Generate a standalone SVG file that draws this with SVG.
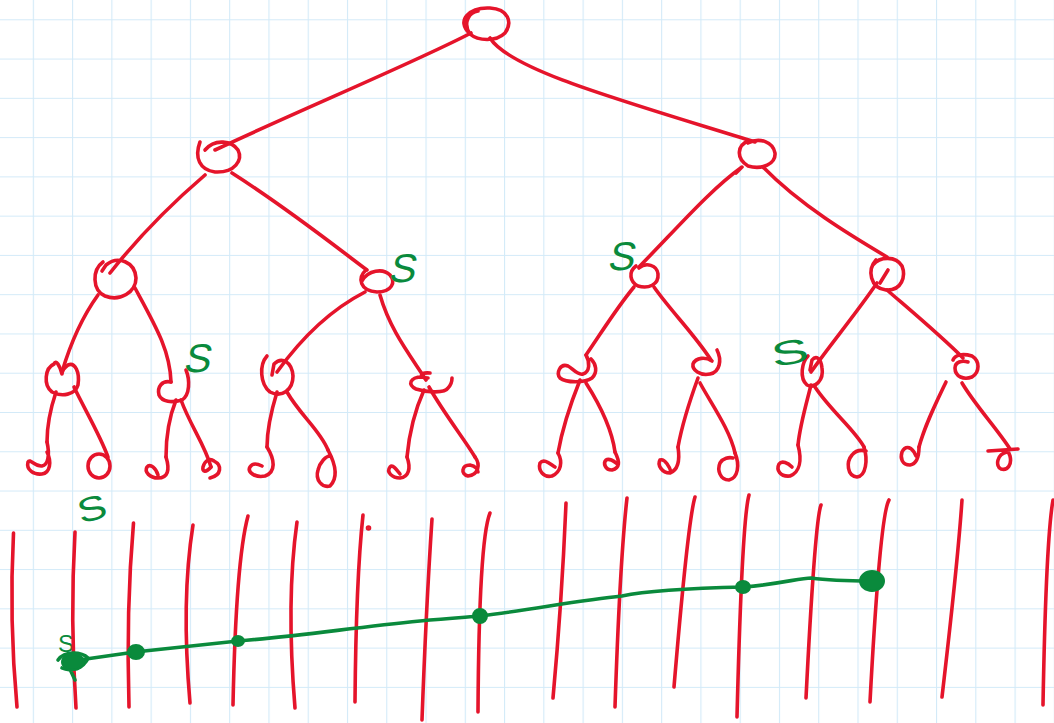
<svg xmlns="http://www.w3.org/2000/svg" width="1054" height="723" viewBox="0 0 1054 723">
<defs>
<pattern id="grid" x="32.8" y="19.3" width="39.27" height="39.27" patternUnits="userSpaceOnUse">
<path d="M0,0 V39.27 M0,0 H39.27" fill="none" stroke="#d3eaf8" stroke-width="2.2"/>
</pattern>
<style>
.r{fill:none;stroke:#e5142b;stroke-width:3.6;stroke-linecap:round;stroke-linejoin:round}
.g{fill:none;stroke:#0a8a3c;stroke-width:3.6;stroke-linecap:round;stroke-linejoin:round}
.gd{fill:#0a8a3c;stroke:#0a8a3c;stroke-width:2}
.s{fill:#0a8a3c;font-family:"Liberation Sans",Arial,sans-serif;font-size:40px;text-anchor:middle}
</style>
</defs>
<rect width="1054" height="723" fill="#ffffff"/>
<rect width="1054" height="723" fill="url(#grid)"/>

<g id="connectors" class="r">
<path d="M471,33 C420,60 300,110 215,150"/>
<path d="M490,38 C510,70 620,100 755,142"/>
<path d="M205,175 C170,205 140,235 110,273"/>
<path d="M232,173 C290,210 340,250 367,270"/>
<path d="M736,173 L742,167 C710,190 680,225 639,267"/>
<path d="M763,167 C800,205 850,235 887,257"/>
<path d="M98,295 C80,320 70,345 62,372"/>
<path d="M135,288 C155,325 170,350 171,382"/>
<path d="M365,292 C330,310 300,340 277,372"/>
<path d="M380,295 C390,330 410,355 426,380"/>
<path d="M634,287 C615,310 600,335 586,355"/>
<path d="M654,287 C670,310 695,335 711,360"/>
<path d="M877,283 C855,315 830,345 811,372"/>
<path d="M887,290 C910,310 940,335 963,358"/>
<path d="M56,392 C50,410 47,425 47,442"/>
<path d="M74,387 C85,410 100,435 108,457"/>
<path d="M176,400 C168,420 166,440 166,457"/>
<path d="M181,400 C190,425 205,445 211,467"/>
<path d="M277,392 C270,415 267,430 267,447"/>
<path d="M287,392 C300,415 320,430 328,450"/>
<path d="M424,390 C415,410 409,435 407,457"/>
<path d="M429,387 C445,415 465,440 475,457"/>
<path d="M580,380 C570,405 562,430 558,453"/>
<path d="M586,383 C600,405 612,430 615,452"/>
<path d="M698,378 C690,400 682,425 678,447"/>
<path d="M700,383 C712,405 730,430 735,453"/>
<path d="M811,385 C806,405 800,425 798,445"/>
<path d="M815,387 C830,410 855,430 864,447"/>
<path d="M946,382 C935,405 925,425 919,447"/>
<path d="M962,383 C975,405 998,430 1010,449"/>
</g>

<g id="root" class="r"><path d="M470,34 C455,20 470,7 490,8 C508,9 513,22 505,33 C496,42 478,41 470,34 C462,22 470,12 478,11"/></g>
<g id="n1" class="r"><path d="M200,142 C194,158 200,170 215,172 C235,173 243,160 238,150 C232,141 215,138 205,150"/></g>
<g id="n2" class="r"><path d="M748,141 C738,145 735,158 748,166 C762,170 776,164 775,153 C773,142 760,137 748,143"/></g>
<g id="n3" class="r"><path d="M103,262 C92,270 92,290 105,296 C120,302 136,292 136,278 C135,262 118,255 106,265 L102,271"/></g>
<g id="n4" class="r"><path d="M366,270 C357,278 360,291 377,292 C392,292 396,282 390,275 C383,268 368,270 362,281"/></g>
<g id="n5" class="r"><path d="M639,268 C646,262 657,265 658,274 C659,285 648,289 638,286 C630,282 628,272 636,266"/></g>
<g id="n6" class="r"><path d="M876,260 C867,270 870,288 886,290 C902,291 906,276 902,266 C896,256 880,256 873,265 M880,283 L888,270"/></g>
<g id="n7" class="r"><path d="M54,364 C45,368 43,385 52,392 C62,397 75,395 78,385 C80,372 75,362 68,365 C64,368 62,372 62,374 C60,366 56,359 54,364"/></g>
<g id="n8" class="r"><path d="M171,382 C162,380 157,387 159,395 C162,402 172,403 182,400 C190,395 190,380 186,370"/></g>
<g id="n9" class="r"><path d="M267,356 C259,365 260,384 270,392 C282,398 293,390 293,376 C292,362 282,356 274,364 L272,375"/></g>
<g id="n10" class="r"><path d="M422,377 C410,377 407,385 416,389 C428,393 445,393 448,388 C452,384 452,380 452,378 M430,373 C420,372 418,378 428,378"/></g>
<g id="n11" class="r"><path d="M586,355 C590,362 590,372 583,374 C578,376 572,368 568,366 C560,363 556,373 560,378 C566,383 585,383 592,378 C598,372 596,364 591,359"/></g>
<g id="n12" class="r"><path d="M717,350 C722,360 720,372 710,374 C700,376 692,370 693,364 C696,357 706,357 712,361"/></g>
<g id="n13" class="r"><path d="M808,356 C802,362 799,378 807,385 C815,389 824,380 822,368 C821,358 816,355 812,360 L810,370"/></g>
<g id="n14" class="r"><path d="M953,360 C955,355 962,353 972,356 C980,361 980,372 972,377 C964,380 955,377 955,368 C955,362 962,360 968,362"/></g>

<g id="leaf1" class="r"><path d="M47,442 C50,455 48,465 42,466 C35,467 30,458 28,462 C26,470 34,475 42,474 C50,473 52,462 47,452"/></g>
<g id="leaf2" class="r"><ellipse cx="99" cy="466" rx="11" ry="12"/></g>
<g id="leaf3" class="r"><path d="M166,457 C170,470 168,478 158,478 C150,478 144,472 147,467 C150,463 156,468 158,475"/></g>
<g id="leaf4" class="r"><path d="M211,467 C206,473 202,472 203,467 C205,460 210,458 214,461 C222,465 222,475 210,478"/></g>
<g id="leaf5" class="r"><path d="M267,447 C275,460 276,472 265,476 C255,478 247,472 250,467 C253,462 258,464 262,466"/></g>
<g id="leaf6" class="r"><path d="M328,450 C336,465 338,478 330,486 C322,488 315,480 318,470 C320,462 326,456 330,456"/></g>
<g id="leaf7" class="r"><path d="M407,457 C411,468 409,477 400,478 C392,478 386,472 390,467 C393,464 397,470 400,474"/></g>
<g id="leaf8" class="r"><path d="M475,457 C481,465 478,475 468,476 C460,474 462,465 470,465 C476,466 478,470 478,472"/></g>
<g id="leaf9" class="r"><path d="M558,453 C563,462 561,472 552,476 C543,478 538,470 540,463 C544,458 550,464 555,467"/></g>
<g id="leaf10" class="r"><path d="M615,452 C620,462 620,468 612,470 C605,470 603,463 606,460 C609,458 614,461 616,463"/></g>
<g id="leaf11" class="r"><path d="M678,447 C680,460 678,470 670,473 C662,473 657,465 660,460 C665,458 670,468 671,472"/></g>
<g id="leaf12" class="r"><path d="M735,453 C740,465 738,478 729,480 C720,480 717,470 720,463 C723,458 729,457 733,458"/></g>
<g id="leaf13" class="r"><path d="M798,445 C802,460 800,472 790,476 C780,477 776,470 779,464 C782,460 788,463 792,467"/></g>
<g id="leaf14" class="r"><path d="M864,447 C868,460 866,476 857,477 C847,476 846,462 852,455 C856,450 862,450 866,451"/></g>
<g id="leaf15" class="r"><path d="M919,447 C919,458 916,464 910,465 C902,465 900,458 902,452 C905,446 910,446 914,452 L916,456"/></g>
<g id="leaf16" class="r"><path d="M988,451 L1018,449 M1007,452 C997,454 995,466 1001,469 C1008,471 1012,464 1010,456 L1008,451"/></g>

<g id="labels">
<text class="s" transform="translate(401,282) skewX(-12)">S</text>
<text class="s" transform="translate(196,372) skewX(-12)">S</text>
<text class="s" transform="translate(620,270) skewX(-12)">S</text>
<text class="s" transform="translate(792,364) rotate(-10) scale(1.4,0.85)">S</text>
<text class="s" transform="translate(95,520) rotate(-15) scale(1.1,0.85)">S</text>
<text class="s" transform="translate(66,652)" style="font-size:24px">S</text>
</g>

<g id="bars" class="r">
<path d="M13.5,533 Q9,620 17,707"/>
<path d="M75,532 Q70,620 76,708"/>
<path d="M133.5,523 Q126,610 129,707"/>
<path d="M193,525 Q181,600 190,703"/>
<path d="M248,516 Q236,560 233,705"/>
<path d="M297,522 Q286,600 295,708"/>
<path d="M363,515 Q356,580 355,702"/>
<path d="M432,519 Q426,610 422,720"/>
<path d="M490,513 Q479,540 478,712"/>
<path d="M566,503 Q562,600 553,698"/>
<path d="M627,498 Q620,560 615,707"/>
<path d="M695,497 Q688,520 674,687"/>
<path d="M749,495 Q742,520 737,717"/>
<path d="M821,505 Q815,520 806,698"/>
<path d="M889,500 Q880,515 870,702"/>
<path d="M962,500 Q958,560 942,697"/>
<path d="M1053,500 Q1046,540 1043,705"/>
<circle cx="368.5" cy="528" r="1" fill="#e5142b"/>
</g>

<g id="path-line">
<path class="g" d="M72,661 L135,652 C180,647 210,644 238,641 C300,636 350,628 420,621 C450,618 470,617 480,616 C530,610 580,600 622,596 C650,590 700,588 744,587 C780,584 800,578 811,578 C825,580 845,581 871,581"/>
<path class="g" d="M58,660 C65,650 82,652 88,658 C84,668 70,672 62,668 M68,665 L75,680"/>
<ellipse class="gd" cx="73" cy="662" rx="11" ry="8"/>
<ellipse class="gd" cx="136" cy="652" rx="8" ry="7"/>
<ellipse class="gd" cx="238" cy="641" rx="6" ry="5"/>
<ellipse class="gd" cx="480" cy="616" rx="7" ry="7"/>
<ellipse class="gd" cx="743" cy="587" rx="7" ry="6"/>
<ellipse class="gd" cx="872" cy="581" rx="12" ry="10"/>
</g>
</svg>
